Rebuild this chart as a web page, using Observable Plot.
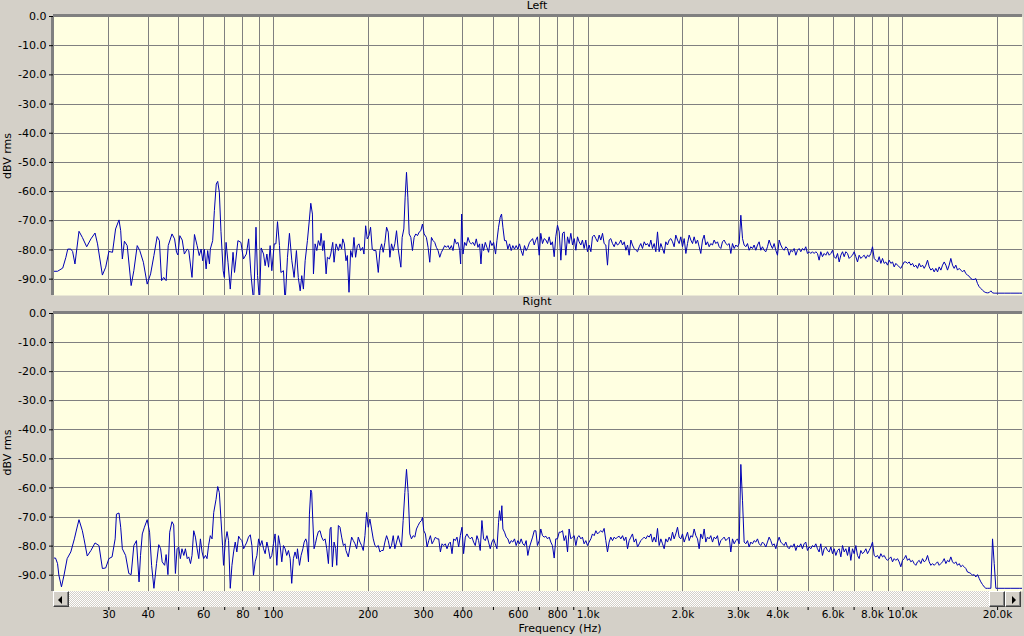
<!DOCTYPE html>
<html><head><meta charset="utf-8">
<script src="https://cdn.jsdelivr.net/npm/d3@7"></script>
<script src="https://cdn.jsdelivr.net/npm/@observablehq/plot@0.6"></script>
<style>
html,body{margin:0;padding:0;background:#d4d0c8;overflow:hidden;}
#wrap{position:relative;width:1024px;height:636px;overflow:hidden;background:#d4d0c8;font-family:"DejaVu Sans",sans-serif;font-size:11px;color:#000;}
#wrap svg{position:absolute;left:0;}
.title{position:absolute;width:200px;text-align:center;font-size:11px;line-height:12px;}
.sb{position:absolute;top:591px;left:53px;width:968px;height:16px;background:repeating-conic-gradient(#d4d0c8 0% 25%,#ffffff 0% 50%) 0 0/2px 2px;}
.btn{position:absolute;top:0;width:16px;height:16px;background:#d4d0c8;box-sizing:border-box;border:1px solid;border-color:#ffffff #404040 #404040 #ffffff;box-shadow:inset -1px -1px #808080;}
.tri{position:absolute;top:4px;width:0;height:0;border-top:4px solid transparent;border-bottom:4px solid transparent;}
</style></head>
<body><div id="wrap">
<div class="title" style="left:437px;top:0px;">Left</div>
<div class="title" style="left:437px;top:296px;">Right</div>
<div class="sb">
  <div class="btn" style="left:0px;"><div class="tri" style="left:4px;border-right:4px solid #000;"></div></div>
  <div class="btn" style="left:936px;"></div>
  <div class="btn" style="left:952px;"><div class="tri" style="left:6px;border-left:4px solid #000;"></div></div>
</div>
<div class="title" style="left:460px;top:623px;">Frequency (Hz)</div>
</div>
<script>
// ---------- data ----------
const xGridTicks = [30,40,50,60,70,80,90,100,200,300,400,500,600,700,800,900,1000,2000,3000,4000,5000,6000,7000,8000,9000,10000,20000];
const xTickLabels = [30,40,60,80,100,200,300,400,600,800,1000,2000,3000,4000,6000,8000,10000,20000];
const yTicks = [0,-10,-20,-30,-40,-50,-60,-70,-80,-90];

// Left channel, low frequencies (Hz, dBV)
const lowFreqL = [
20.0,20.6,21.4,21.9,22.2,22.7,23.0,23.4,24.1,24.7,
25.5,26.3,27.1,27.6,28.6,29.3,30.0,30.8,31.5,32.3,
32.7,33.1,33.6,34.3,35.3,36.0,36.9,37.6,38.6,39.7,
40.7,41.7,42.7,43.4,44.1,44.8,45.6,46.3,47.6,48.5,
49.2,49.7,50.4,51.3,52.1,53.2,53.8,55.1,56.1,57.2,
58.1,58.9,59.6,60.3,61.1,61.8,62.6,63.0,64.1,64.9,
65.8,66.5,67.3,68.1,69.2,69.8,70.7,71.7,72.9,74.4,
75.2,77.1,78.8,80.3,82.0,83.4,84.8,86.5,88.0,89.0,
90.3,91.4,93.0,94.1,95.3,96.5,97.6,98.8,100.6,101.8,
103.0,104.5,105.6,107.6,108.9,110.8,112.4,114.4,116.3,
118.3,119.9,121.6,123.0,124.5,126.1,128.2,130.1,131.4,133.0,
134.0,135.6,137.3,138.9,140.6,141.7,143.4,144.8,147.0,148.4,
150.6,152.1,154.3,155.8,158.1,160.8,162.7,164.7,166.0,168.0,
170.0,171.7,173.8,175.9,178.1,180.2,182.4,184.7,186.9,189.2,
192.0,193.9,196.3,198.6,201.1,203.5,206.0,208.6,211.6,215.3,
217.9,220.6,223.2,226.0,228.8,231.6,234.4,237.2,240.2,243.1,
246.1,249.1,254.0,256.4,259.6,262.1,264.7,267.3,269.9,273.2,
276.5,279.9,283.3,286.8,290.3,293.9,297.5,301.1,306.2,310.0,
313.8,317.7,321.6,325.4,329.4,333.5,337.6,341.7,345.8,350.1,
354.4,358.7,363.1,367.6,372.0,376.6,381.2,385.9,390.6,393.4,
396.3,400.2,405.1,410.1,415.1,420.1,425.2,430.5,435.7,441.1,
446.4,451.9,456.4,460.8,465.3,471.1,476.8,482.6,488.5,494.5,
500.6,507.9,513.0,519.1,525.5,530.6,535.9,542.3,549.0,555.7,
562.6,569.5,576.3,583.4,590.6,597.8,605.2,612.5,620.0,627.6,
635.3,643.1,651.0];
const lowDbL = [
-87.3,-87.3,-86.2,-82.5,-79.7,-79.7,-80.5,-84.8,-73.6,-75.7,
-78.9,-76.2,-74.2,-77.9,-88.6,-85.9,-80.5,-80.8,-72.8,-69.7,
-73.4,-83.1,-77.0,-78.5,-92.2,-87.1,-78.5,-80.2,-84.2,-91.7,
-88.2,-81.9,-75.4,-76.8,-90.5,-89.4,-90.5,-78.5,-74.5,-76.2,
-80.8,-81.7,-75.1,-76.6,-81.4,-79.7,-80.2,-89.4,-74.7,-78.5,
-81.9,-79.7,-83.7,-79.7,-86.5,-80.2,-84.8,-79.7,-76.8,-66.5,
-57.4,-56.5,-60.2,-73.6,-87.1,-89.4,-77.4,-84.2,-93.4,-80.8,
-87.7,-76.8,-77.4,-83.1,-81.4,-76.2,-88.2,-98.0,-72.2,-88.8,
-98.0,-79.3,-81.4,-85.4,-81.4,-85.9,-78.5,-87.1,-77.9,-77.9,
-70.3,-78.5,-87.7,-87.1,-98.0,-82.5,-74.3,-83.7,-89.4,
-80.2,-89.4,-94.0,-88.8,-93.4,-83.7,-76.8,-69.4,-64.0,-67.7,
-88.2,-77.9,-80.2,-76.8,-78.5,-74.3,-80.2,-76.8,-88.2,-82.5,
-83.1,-81.4,-77.4,-84.2,-77.9,-80.2,-77.9,-79.7,-76.2,-77.9,
-83.7,-81.9,-94.5,-80.2,-82.5,-75.7,-82.5,-78.5,-77.9,-80.2,
-79.1,-81.4,-71.7,-76.2,-75.1,-72.2,-79.7,-80.2,-80.2,-87.7,
-80.2,-77.9,-80.8,-77.4,-72.2,-73.9,-82.5,-77.9,-80.2,-77.9,
-73.4,-79.7,-85.9,-75.7,-72.8,-61.9,-53.4,-61.9,-74.5,-75.7,
-80.2,-75.7,-74.5,-75.1,-73.9,-73.4,-71.1,-74.5,-75.7,-79.1,
-84.2,-75.7,-76.8,-77.4,-79.1,-80.2,-82.5,-80.8,-79.7,-78.5,
-79.1,-78.5,-79.7,-78.5,-80.2,-76.2,-77.9,-77.4,-80.2,-84.8,
-67.7,-81.4,-77.4,-78.5,-75.7,-77.4,-77.9,-77.4,-78.5,-76.2,
-79.1,-77.9,-84.8,-77.9,-80.2,-77.4,-79.1,-80.8,-76.8,-78.5,
-77.4,-81.4,-76.8,-72.2,-68.8,-67.7,-72.2,-76.8,-76.8,-79.7,
-77.9,-80.2,-78.5,-79.7,-78.5,-79.7,-77.9,-80.2,-81.9,-78.5,
-80.2,-79.1,-77.4];

// Right channel, low frequencies (Hz, dBV)
const lowFreqR = [
20.0,20.3,20.6,20.8,21.2,21.6,22.1,22.7,23.3,23.7,
24.1,24.7,25.0,25.6,26.3,27.1,27.9,28.6,29.3,30.0,
30.7,31.4,31.7,32.3,32.7,33.1,33.9,34.7,35.3,36.0,
36.7,37.4,37.8,38.3,38.9,39.7,40.4,41.0,41.7,42.5,
43.2,43.8,44.3,45.1,45.6,46.2,46.8,47.6,48.2,48.8,
49.4,50.0,50.6,51.2,51.9,52.5,53.2,53.8,54.5,55.1,
55.8,56.5,57.2,57.9,58.6,59.3,60.0,60.8,61.5,62.2,
63.0,63.8,64.6,65.7,66.5,67.3,68.1,68.9,69.4,70.3,
71.2,72.0,72.9,73.8,74.7,75.6,76.5,77.5,78.4,79.4,
80.4,81.3,82.3,83.3,84.4,85.4,86.4,87.5,88.6,89.7,
90.8,91.9,93.0,94.1,95.3,96.4,97.6,98.8,100.0,101.2,
102.5,103.7,105.0,106.3,107.6,108.9,110.2,111.6,113.0,114.3,
115.7,117.1,118.6,
119.2,121.0,122.4,124.0,125.2,126.7,127.6,129.2,130.1,131.4,
132.3,133.3,134.6,135.9,137.3,138.9,140.6,142.3,144.1,145.9,
147.7,149.5,151.3,152.4,153.9,155.8,157.7,158.9,160.8,162.7,
164.7,166.8,168.8,170.0,172.9,175.0,177.2,179.4,181.6,183.8,
186.0,188.3,190.6,192.9,195.3,197.7,200.1,202.5,205.0,207.5,
210.1,212.6,215.3,217.9,220.6,223.2,226.0,228.8,231.6,234.4,
237.2,240.2,243.1,246.1,249.1,252.1,255.2,258.3,261.5,264.7,
267.9,271.2,274.5,277.9,281.3,284.7,288.2,291.7,295.3,297.5,
300.4,304.0,307.7,311.5,315.3,319.2,323.1,327.1,331.0,335.1,
339.2,343.3,347.5,351.7,356.0,360.4,364.8,369.3,373.8,378.3,
383.0,387.7,392.4,397.2,402.0,407.0,412.0,417.0,422.1,427.2,
432.5,437.8,443.2,448.6,454.0,459.6,465.3,471.1,476.8,482.6,
488.5,494.5,500.6,506.6,513.0,519.1,522.8,527.9,531.8,535.9,
542.3,549.0,555.7,562.6,569.5,576.3,583.4,590.6,597.8,605.2,
612.5,620.0,627.6,635.3,643.1,651.0];
const lowDbR = [
-84.1,-84.1,-86.0,-90.0,-94.0,-90.0,-84.3,-82.0,-77.5,-74.1,
-70.9,-74.7,-77.5,-83.4,-81.5,-78.9,-79.8,-87.7,-87.5,-84.3,
-83.7,-77.5,-69.0,-68.6,-73.5,-80.9,-83.2,-89.4,-89.8,-79.8,
-78.1,-92.3,-83.2,-75.8,-73.5,-70.9,-75.2,-86.6,-94.5,-86.0,
-79.5,-80.9,-85.4,-86.6,-82.9,-89.8,-75.2,-71.6,-72.7,-89.4,
-80.9,-80.3,-84.3,-80.9,-83.2,-80.9,-84.3,-83.7,-86.0,-83.2,
-74.7,-76.9,-80.9,-84.3,-77.5,-82.0,-84.3,-83.2,-84.3,-79.8,
-76.4,-77.5,-68.4,-63.9,-59.5,-61.6,-70.7,-79.8,-86.6,-78.6,
-75.0,-78.1,-94.5,-86.6,-82.0,-78.6,-82.0,-76.6,-77.5,-78.1,
-80.9,-79.8,-78.6,-76.9,-76.1,-79.8,-90.0,-85.4,-83.2,-77.5,
-79.8,-78.1,-80.9,-82.6,-78.6,-80.9,-84.3,-83.2,-79.2,-75.8,
-86.6,-76.4,-79.8,-85.4,-79.8,-80.9,-83.2,-81.5,-84.3,-92.8,
-84.3,-82.0,-84.3,
-80.9,-86.6,-83.2,-80.9,-78.6,-77.5,-78.6,-85.4,-69.0,-60.7,
-61.6,-70.7,-80.9,-79.2,-76.9,-75.0,-74.7,-76.9,-78.1,-77.5,
-80.9,-86.0,-74.1,-73.5,-87.1,-78.6,-80.9,-86.6,-72.9,-73.5,
-76.9,-79.8,-79.2,-81.5,-83.7,-80.3,-76.9,-78.1,-79.2,-80.9,
-76.9,-78.6,-79.8,-81.5,-76.4,-68.4,-73.5,-70.7,-74.1,-77.5,
-79.8,-80.3,-79.8,-82.0,-81.5,-81.5,-78.6,-76.4,-78.1,-80.9,
-79.8,-76.4,-80.9,-78.6,-76.4,-78.6,-80.3,-71.2,-61.6,-53.6,
-61.6,-75.8,-77.5,-76.4,-76.9,-74.1,-72.9,-71.8,-71.2,-70.1,
-74.7,-75.8,-80.3,-78.1,-76.4,-79.2,-78.1,-76.9,-77.5,-77.5,
-82.0,-79.2,-79.8,-79.2,-80.9,-79.2,-78.6,-82.6,-77.5,-78.1,
-76.9,-80.3,-76.4,-73.5,-82.6,-76.9,-75.8,-76.9,-77.5,-76.9,
-78.6,-79.8,-76.4,-78.1,-81.5,-71.2,-77.5,-78.1,-76.4,-78.6,
-80.9,-78.6,-77.5,-79.2,-80.9,-71.8,-67.8,-71.2,-66.1,-74.1,
-75.2,-76.9,-77.5,-79.2,-78.1,-78.6,-77.5,-79.8,-78.1,-79.2,
-77.5,-79.2,-79.8,-78.1,-83.2,-80.3];

// High frequencies, shared by both channels (Hz)
const highFreq = [
666,674,682,690,699,707,716,725,734,743,
752,761,770,780,789,799,809,819,829,839,
849,860,870,881,892,903,914,925,936,948,
959,971,983,995,1007,1020,1032,1045,1058,1071,
1084,1097,1111,1124,1138,1152,1166,1180,1195,1210,
1224,1239,1255,1270,1286,1302,1318,1334,1350,1367,
1383,1400,1418,1435,1453,1470,1488,1507,1525,1544,
1563,1582,1601,1621,1641,1661,1681,1702,1723,1744,
1765,1787,1809,1831,1854,1876,1899,1923,1946,1970,
1994,2019,2044,2069,2094,2120,2146,2172,2199,2226,
2253,2280,2309,2337,2365,2394,2424,2453,2484,2514,
2545,2576,2608,2640,2672,2705,2738,2772,2806,2840,
2875,2911,2946,2982,3019,3056,3094,3131,3170,3209,
3248,3287,3328,3368,3410,3452,3494,3537,3580,3624,
3669,3714,3759,3805,3852,3899,3947,3996,4045,4094,
4145,4195,4247,4299,4352,4405,4459,4514,4570,4626,
4682,4739,4797,4856,4915,4976,5037,5099,5161,5225,
5289,5354,5419,5486,5553,5623,5692,5762,5833,5905,
5977,6050,6125,6200,6276,6353,6431,6510,6590,6671,
6751,6834,6918,7003,7089,7176,7264,7353,7444,7535,
7628,7721,7816,7912,8009,8109,8207,8308,8410,8513,
8617,8723,8830,8939,9048,9159,9272,9386,9501,9617,
9733,9853,9975,10097,10221,10347,10474,10603,10733,10865,
10998,11133,11270,11408,11548,11690,11834,11979,12126,12274,
12425,12578,12732,12888,13047,13207,13369,13533,13699,13864,
14034,14206,14381,14557,14736,14917,15100,15285,15473,15663,
15855,16049,16246,16446,16647,16852,17059,17268,17480,17695,
17912,18132,18354,18579,18807,19038,19275,19512,19751,20000,
20990,22040,23420,24000];
const highDbL = [
-76.1,-78.3,-76.6,-75.5,-81.8,-74.3,-77.8,-76.1,-76.6,-77.8,
-75.5,-78.3,-77.2,-82.3,-75.5,-71.5,-73.8,-83.5,-74.3,-73.8,
-81.8,-75.5,-77.8,-74.3,-78.3,-76.1,-80.1,-75.5,-77.2,-78.3,
-76.6,-79.5,-76.6,-80.6,-78.3,-80.6,-75.5,-74.9,-76.1,-77.2,
-74.9,-76.6,-74.3,-77.8,-78.3,-85.2,-76.6,-76.1,-77.8,-78.9,
-77.2,-78.3,-77.8,-76.6,-78.3,-77.2,-80.1,-78.3,-81.8,-76.6,
-78.3,-79.5,-80.1,-80.6,-78.9,-77.8,-79.5,-77.2,-78.3,-77.8,
-78.9,-76.6,-79.5,-77.8,-80.6,-73.8,-80.6,-77.8,-79.5,-81.2,
-77.2,-78.3,-76.6,-76.1,-77.2,-78.9,-74.9,-76.6,-77.8,-75.5,
-78.9,-76.1,-81.2,-77.8,-74.9,-76.6,-77.8,-75.5,-77.8,-76.6,
-78.9,-81.2,-76.6,-74.9,-78.3,-77.2,-78.9,-77.8,-78.3,-76.6,
-77.8,-77.2,-78.9,-79.5,-77.2,-76.6,-77.8,-78.3,-77.8,-81.2,
-77.8,-79.5,-78.3,-78.9,-77.8,-68.1,-76.1,-78.3,-78.9,-77.8,
-80.1,-78.9,-79.5,-78.3,-80.1,-78.3,-77.2,-80.1,-78.9,-80.1,
-80.6,-78.9,-76.6,-78.3,-79.5,-77.8,-80.1,-81.8,-76.6,-78.3,
-79.5,-80.1,-78.9,-79.5,-81.8,-80.1,-80.6,-79.5,-81.8,-80.1,
-79.5,-80.6,-79.5,-80.1,-78.9,-81.2,-80.6,-81.2,-80.6,-81.2,
-80.6,-81.2,-83.5,-80.6,-82.3,-81.2,-81.8,-80.6,-81.8,-81.2,
-80.1,-82.3,-82.9,-81.2,-84.1,-81.8,-80.6,-82.3,-80.6,-81.2,
-82.9,-82.3,-81.8,-80.6,-82.3,-84.1,-81.8,-82.9,-82.3,-81.8,
-82.9,-81.8,-82.3,-81.2,-78.9,-82.9,-83.5,-84.1,-82.3,-84.6,
-82.9,-84.6,-84.1,-85.2,-83.5,-84.6,-84.1,-85.8,-84.6,-85.2,
-85.8,-86.3,-85.2,-84.1,-84.1,-84.6,-84.1,-85.2,-84.6,-85.8,
-85.2,-86.3,-84.6,-85.8,-85.2,-86.3,-85.2,-83.5,-85.8,-86.9,
-86.3,-87.5,-86.3,-87.5,-85.8,-86.9,-85.2,-84.1,-85.2,-86.9,
-85.2,-82.9,-85.2,-86.3,-85.2,-86.9,-86.3,-86.9,-87.5,-86.9,
-88.1,-88.6,-89.0,-89.8,-90.1,-90.1,-89.8,-91.5,-92.6,-93.2,
-93.8,-94.3,-94.6,-94.7,-94.6,-94.0,-94.7,-94.8,-94.8,-94.8,
-94.8,-94.8,-94.8,-94.8];
const highDbR = [
-76.9,-74.7,-74.7,-79.8,-78.1,-74.1,-76.4,-76.9,-76.6,-77.5,
-76.9,-78.6,-79.8,-84.1,-77.5,-77.5,-75.2,-75.2,-74.7,-78.1,
-76.4,-82.0,-74.1,-77.5,-76.9,-76.4,-79.8,-76.9,-76.4,-77.5,
-76.9,-79.2,-78.1,-79.8,-78.6,-77.5,-75.8,-76.4,-74.7,-75.8,
-75.2,-74.7,-75.2,-73.9,-78.1,-82.0,-78.6,-76.9,-78.1,-76.9,
-77.5,-76.9,-76.6,-77.5,-76.4,-78.1,-76.9,-80.9,-78.1,-76.9,
-75.8,-78.6,-77.5,-80.3,-79.2,-78.1,-77.5,-76.9,-77.5,-76.4,
-76.9,-75.8,-78.6,-76.9,-78.6,-73.9,-79.8,-77.5,-79.2,-80.9,
-77.5,-78.6,-76.9,-78.1,-75.2,-77.5,-75.8,-73.5,-76.9,-77.5,
-75.8,-78.6,-76.9,-75.2,-78.1,-76.4,-76.9,-74.1,-76.4,-77.5,
-80.9,-75.8,-77.5,-74.1,-78.6,-76.9,-77.5,-76.4,-78.6,-76.9,
-77.5,-76.4,-79.8,-78.1,-77.5,-76.9,-78.1,-77.5,-76.9,-82.0,
-77.5,-79.2,-78.1,-77.5,-79.2,-51.9,-64.4,-78.6,-79.2,-78.1,
-80.3,-78.6,-79.2,-78.1,-78.6,-77.5,-79.2,-79.8,-78.6,-79.2,
-80.3,-78.6,-76.9,-78.1,-79.8,-79.2,-80.9,-78.6,-76.9,-78.6,
-79.2,-79.8,-78.6,-80.3,-80.9,-79.8,-80.3,-79.2,-81.5,-79.8,
-80.3,-79.2,-80.9,-79.2,-78.6,-81.5,-80.3,-80.9,-79.8,-80.3,
-79.2,-80.9,-82.0,-79.2,-83.2,-80.9,-80.3,-81.5,-82.0,-80.3,
-82.6,-80.9,-83.2,-81.5,-80.9,-83.7,-79.8,-82.0,-80.9,-83.2,
-80.3,-84.9,-80.9,-82.6,-79.8,-83.2,-84.3,-81.5,-82.6,-82.0,
-80.9,-82.6,-81.5,-80.3,-78.6,-83.2,-83.7,-83.2,-84.3,-82.6,
-83.7,-83.2,-84.3,-84.9,-84.3,-83.7,-85.4,-84.3,-84.9,-84.3,
-85.4,-87.1,-84.9,-84.3,-83.2,-84.9,-84.3,-85.4,-84.9,-86.0,
-86.6,-85.4,-84.9,-86.0,-84.3,-85.4,-84.9,-83.2,-85.4,-86.6,
-86.0,-86.6,-86.0,-85.4,-86.6,-86.0,-85.4,-84.3,-86.0,-84.9,
-85.4,-83.7,-85.4,-86.0,-85.4,-86.6,-86.0,-87.1,-86.6,-87.1,
-87.7,-88.9,-89.1,-89.4,-90.0,-89.8,-90.6,-89.8,-91.1,-92.3,
-93.2,-94.0,-94.5,-94.5,-94.5,-94.5,-77.5,-86.0,-94.5,-94.5,
-94.5,-94.5,-94.5,-94.5];

// ---------- build ----------
const toRows = (fs, ds) => fs.map((f, i) => ({f, db: ds[i]}));
const leftData = [...toRows(lowFreqL, lowDbL), ...toRows(highFreq, highDbL)];
const rightData = [...toRows(lowFreqR, lowDbR), ...toRows(highFreq, highDbR)];

const fmtX = d => d >= 1000 ? (d / 1000).toFixed(1) + "k" : String(d);
const gridColor = "#808080";
const traceColor = "#0000b4";

function panel(data, withXAxis, height, marginBottom) {
  const marks = [
    Plot.frame({fill: "#ffffe1", stroke: null}),
    Plot.ruleX(xGridTicks, {stroke: gridColor, strokeWidth: 1, shapeRendering: "crispEdges"}),
    Plot.ruleY(yTicks.filter(d => d < 0), {stroke: gridColor, strokeWidth: 1, shapeRendering: "crispEdges"}),
    Plot.line(data, {x: "f", y: "db", stroke: traceColor, strokeWidth: 1, clip: true}),
    Plot.ruleY([0], {stroke: gridColor, strokeWidth: 3, dy: -1, shapeRendering: "crispEdges"}),
    Plot.ruleX([20], {stroke: gridColor, strokeWidth: 3, dx: -1, shapeRendering: "crispEdges"}),
    Plot.axisY(yTicks, {tickFormat: d => d.toFixed(1), tickSize: 4, tickPadding: 3,
      label: "dBV rms", labelAnchor: "center", labelArrow: "none", labelOffset: 50})
  ];
  if (withXAxis) {
    // tick marks only (just below the scroll bar)
    marks.push(Plot.axisX(xGridTicks, {tickSize: 3, dy: 16, fill: "none", label: null}));
    // tick labels
    marks.push(Plot.text(xTickLabels, {x: d => d, frameAnchor: "bottom", dy: 26, text: fmtX, fontSize: 10.5, fill: "#000"}));
  }
  return Plot.plot({
    width: 1024, height,
    marginLeft: 53, marginRight: 2, marginTop: 16, marginBottom,
    x: {type: "log", domain: [20, 24000], axis: null},
    y: {domain: [-95.6, 0]},
    style: {background: "transparent", fontFamily: "DejaVu Sans, sans-serif", fontSize: "11px", color: "#000", overflow: "visible"},
    marks
  });
}

const wrapEl = document.getElementById("wrap");
const topPanel = panel(leftData, false, 300, 5);
topPanel.style.top = "0px";
const bottomPanel = panel(rightData, true, 339, 45);
bottomPanel.style.top = "297px";
wrapEl.insertBefore(bottomPanel, wrapEl.firstChild);
wrapEl.insertBefore(topPanel, wrapEl.firstChild);
</script>
</body></html>
